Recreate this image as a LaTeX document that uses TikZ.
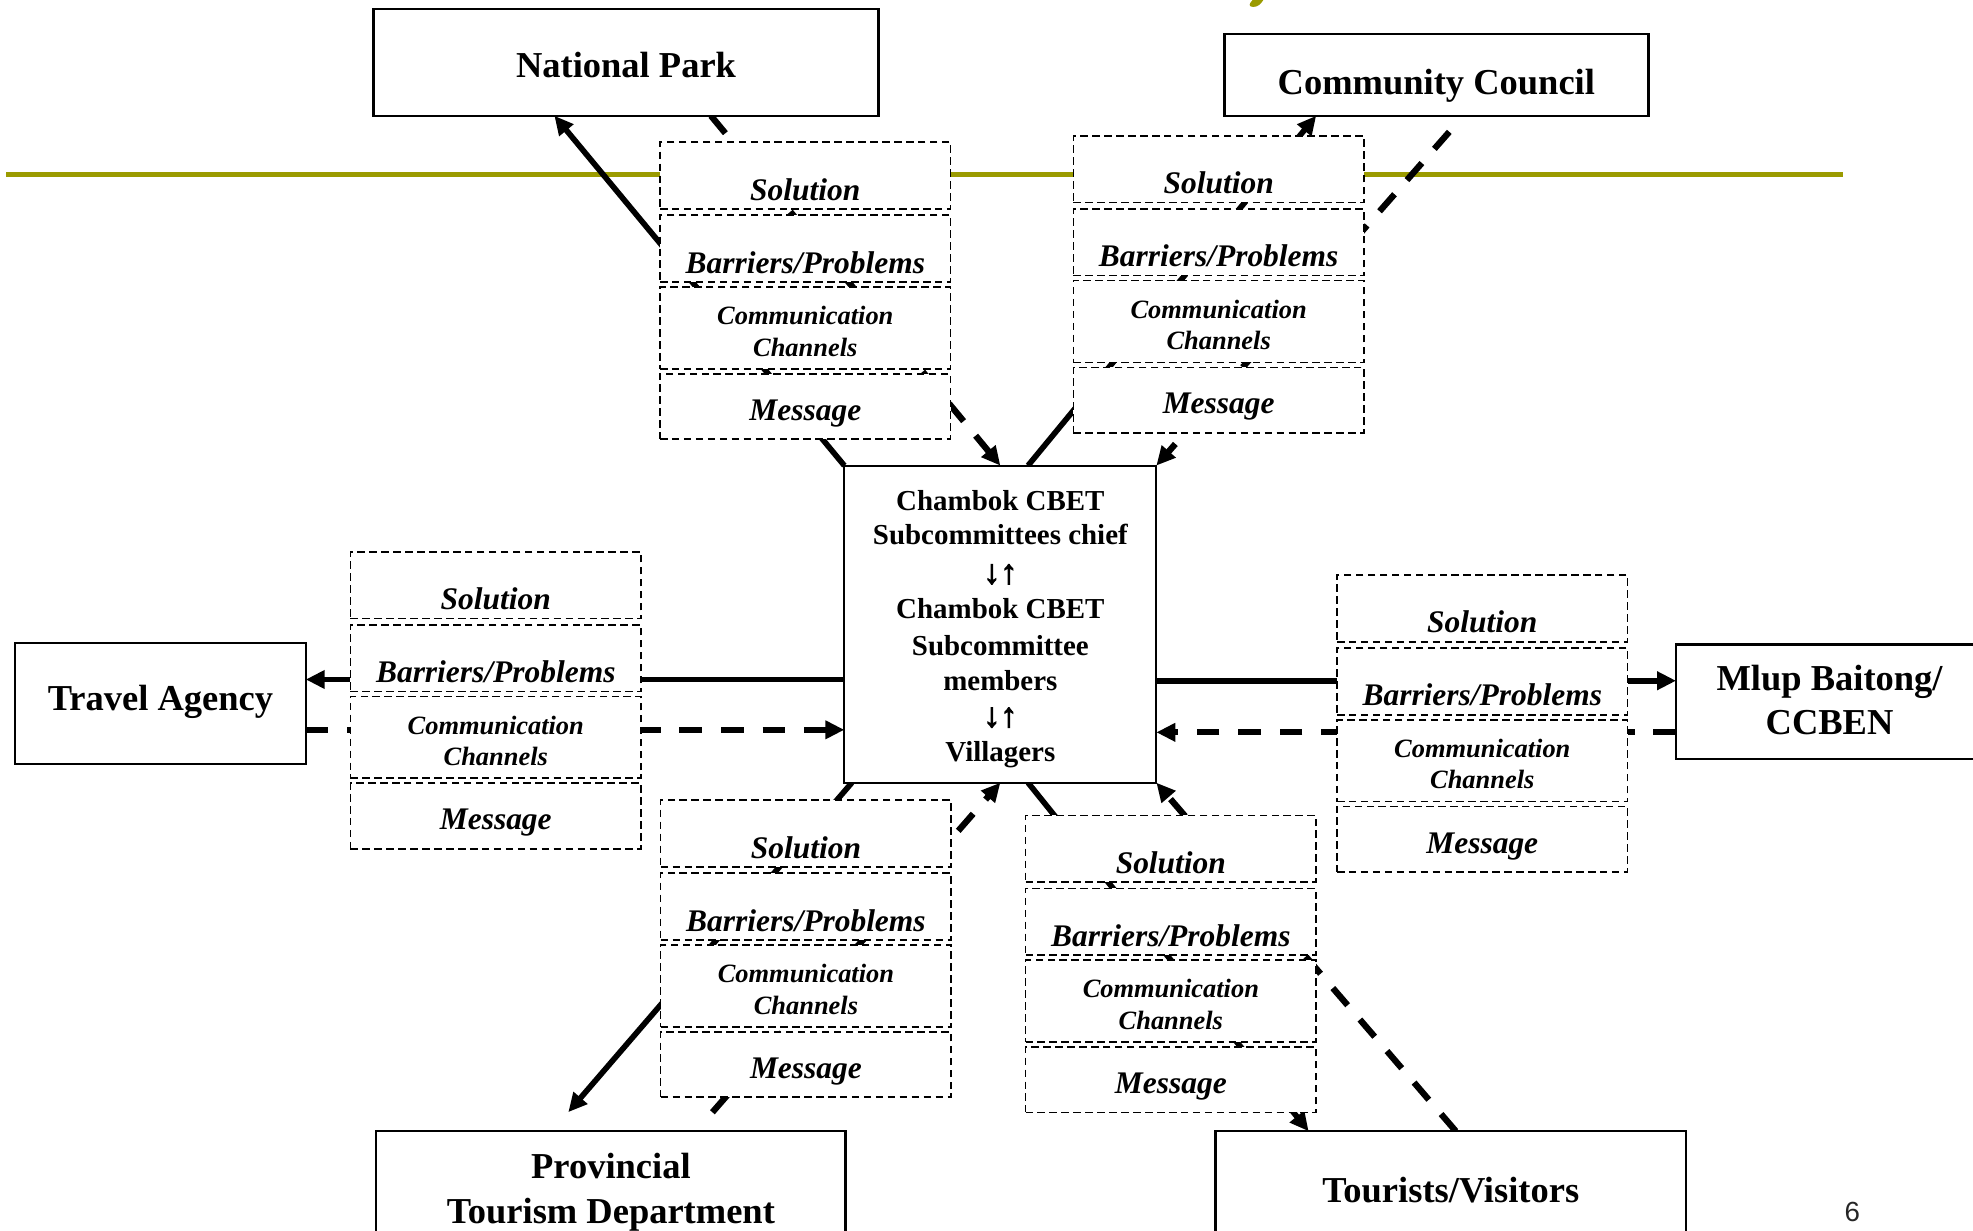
\documentclass[tikz,border=0pt]{standalone}
\usepackage{fontspec}
\setmainfont{Liberation Serif}
\setsansfont{Liberation Sans}
\newfontfamily\arrfont{Liberation Serif}[FakeBold=3]
\usetikzlibrary{arrows.meta,fit,calc}
\definecolor{olivebar}{RGB}{155,155,0}
\pgfdeclarelayer{back}
\pgfdeclarelayer{bg}
\pgfsetlayers{back,bg,main}
\newcommand\dgroup[3]{%
  \node[dbox, fit={(#2,#3)({#2+231},{#3+53})}] (#1sol) {};
  \node[dbox, fit={(#2,{#3+58})({#2+231},{#3+111})}] (#1bar) {};
  \node[dbox, fit={(#2,{#3+115})({#2+231},{#3+180})}] (#1com) {};
  \node[dbox, fit={(#2,{#3+184})({#2+231},{#3+236})}] (#1msg) {};
  \node[lbltxt] (#1solt) at ({#2+115.5},{#3+46}) {Solution};
  \node[lbltxt] (#1bart) at ({#2+115.5},{#3+104}) {Barriers/Problems};
  \node[smltxt] (#1comt) at ({#2+115.5},{#3+145}) {Communication};
  \node[smltxt] (#1chat) at ({#2+115.5},{#3+170}) {Channels};
  \node[lbltxt] (#1msgt) at ({#2+115.5},{#3+221}) {Message};
}
\begin{document}
\begin{tikzpicture}[x=1pt,y=-1pt,
  sbox/.style={draw,line width=2pt,fill=white,inner sep=0pt,outer sep=0pt},
  cbox/.style={draw,line width=1.6pt,fill=white,inner sep=0pt,outer sep=0pt},
  dbox/.style={draw,line width=1.3pt,dash pattern=on 6pt off 3.5pt,fill=white,inner sep=0pt,outer sep=0pt},
  bigtxt/.style={anchor=base,inner sep=0pt,font=\fontsize{29}{35}\selectfont\bfseries},
  ctrtxt/.style={anchor=base,inner sep=0pt,font=\fontsize{23}{28}\selectfont\bfseries},
  arrtxt/.style={anchor=base,inner sep=0pt,font=\arrfont\fontsize{27}{28}\selectfont},
  lbltxt/.style={anchor=base,inner sep=0pt,font=\fontsize{25}{30}\selectfont\bfseries\itshape},
  smltxt/.style={anchor=base,inner sep=0pt,font=\fontsize{21}{26}\selectfont\bfseries\itshape},
  solidcon/.style={line width=4.5pt,-{Triangle[length=15pt,width=14pt]}},
  dashcon/.style={line width=5pt,dash pattern=on 18pt off 15pt,-{Triangle[length=15pt,width=14pt]}},
]
\useasboundingbox (0,0) rectangle (1568,978);
\begin{pgfonlayer}{back}
\fill[white] (0,0) rectangle (1568,978);
\end{pgfonlayer}

% main boxes
\node[sbox, fit={(297,7)(698,92)}] (np) {};
\node[sbox, fit={(973,27)(1310,92)}] (cc) {};
\node[sbox, fit={(12,511)(243,607)}] (ta) {};
\node[sbox, fit={(1332,512)(1580,603)}] (mb) {};
\node[sbox, fit={(299,899)(672,995)}] (ptd) {};
\node[sbox, fit={(966,899)(1340,995)}] (tv) {};
\node[cbox, fit={(671,370)(919,622)}] (ctr) {};

% dashed groups
\dgroup{gnp}{524.5}{113}
\dgroup{gcc}{853}{108}
\dgroup{gta}{278.5}{438.5}
\dgroup{gmb}{1062.5}{457}
\dgroup{gpt}{525}{636}
\dgroup{gtv}{815}{648}

% texts of main boxes
\node[bigtxt] (npt) at (497.5,61.5) {National Park};
\node[bigtxt] (cct) at (1141.5,74.7) {Community Council};
\node[bigtxt] (tat) at (127.5,564.3) {Travel Agency};
\node[bigtxt] (mbt1) at (1454,548.4) {Mlup Baitong/};
\node[bigtxt] (mbt2) at (1454,584) {CCBEN};
\node[bigtxt] (ptdt1) at (485.5,936.4) {Provincial};
\node[bigtxt] (ptdt2) at (485.5,972) {Tourism Department};
\node[bigtxt] (tvt) at (1153,956) {Tourists/Visitors};

\node[ctrtxt] (c1) at (795,405.5) {Chambok CBET};
\node[ctrtxt] (c2) at (795,433) {Subcommittees chief};
\node[arrtxt] (c3) at (795,463.6) {↓↑};
\node[ctrtxt] (c4) at (795,491.4) {Chambok CBET};
\node[ctrtxt] (c5) at (795,520.6) {Subcommittee};
\node[ctrtxt] (c6) at (795,548.5) {members};
\node[arrtxt] (c7) at (795,577.5) {↓↑};
\node[ctrtxt] (c8) at (795,605.3) {Villagers};

\node[anchor=base,inner sep=0pt,font=\sffamily\fontsize{22}{26}\selectfont,text=black!85] (pgnum) at (1472,971) {6};

% horizontal connector points
\coordinate (cw1) at ([yshift=-44pt]ctr.west);
\coordinate (cw2) at ([yshift=-84pt]ctr.west);
\coordinate (ce1) at ([yshift=-45pt]ctr.east);
\coordinate (ce2) at ([yshift=-86pt]ctr.east);

\begin{pgfonlayer}{bg}
\draw[olivebar,line width=4pt] (5,139) -- (1465,139);
% title fragment
\fill[olivebar] (995.5,0) -- (1004,0) .. controls (1002,3) and (1000,5.5) .. (996,5.5) .. controls (992,5.5) and (992.5,3) .. (995.5,0) -- cycle;
% National Park
\draw[solidcon] (ctr.north west) -- ([xshift=143.6pt]np.south west);
\draw[dashcon] ([xshift=268pt]np.south west) -- (ctr.north);
% Community Council
\draw[solidcon] ([xshift=22pt]ctr.north) -- ([xshift=73pt]cc.south west);
\draw[dashcon,shorten <=17pt] ([xshift=190pt]cc.south west) -- (ctr.north east);
% Travel Agency
\draw[solidcon] (cw1) -- (cw1 -| ta.east);
\draw[dashcon] (cw2 -| ta.east) -- (cw2);
% Mlup Baitong
\draw[solidcon] (ce1) -- (ce1 -| mb.west);
\draw[dashcon] (ce2 -| mb.west) -- (ce2);
% Provincial Tourism Department
\draw[solidcon,shorten >=20pt] ([xshift=6pt]ctr.south west) -- ([xshift=139.6pt]ptd.north west);
\draw[dashcon,shorten <=20pt] ([xshift=254pt]ptd.north west) -- (ctr.south);
% Tourists / Visitors
\draw[solidcon] ([xshift=22pt]ctr.south) -- ([xshift=74pt]tv.north west);
\draw[dashcon] ([xshift=191pt]tv.north west) -- (ctr.south east);
\end{pgfonlayer}
\end{tikzpicture}
\end{document}
